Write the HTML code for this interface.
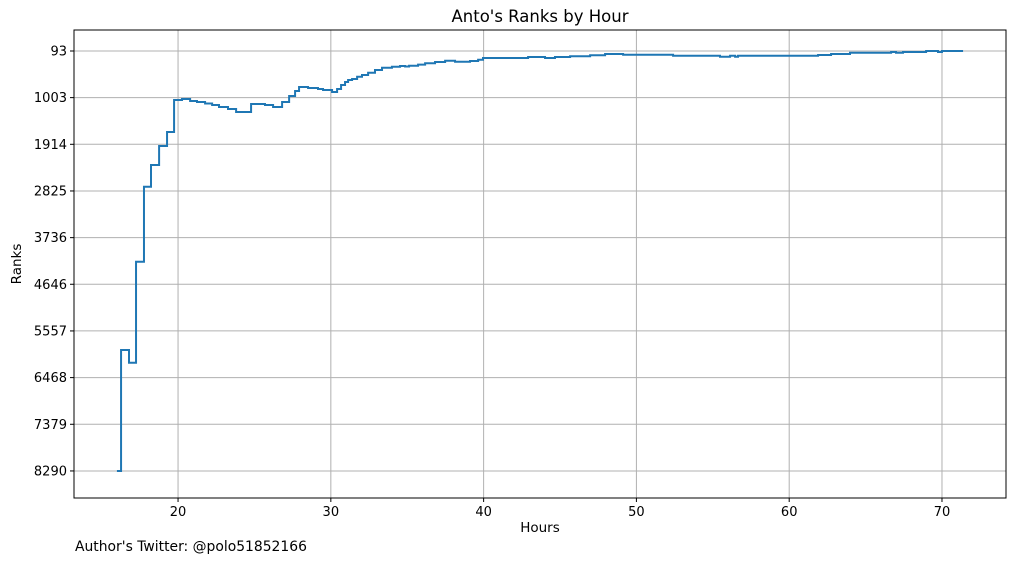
<!DOCTYPE html>
<html><head><meta charset="utf-8"><style>
body{margin:0;background:#fff;font-family:"DejaVu Sans",sans-serif}
</style></head><body>
<svg id="c" width="1014" height="562" xmlns="http://www.w3.org/2000/svg" font-family="DejaVu Sans, sans-serif"></svg>
<script>
const hours=[16.0,16.27,16.79,17.25,17.77,18.23,18.76,19.28,19.74,20.26,20.79,21.24,21.77,22.23,22.68,23.27,23.8,24.78,25.69,26.22,26.81,27.27,27.66,27.92,28.51,29.16,29.49,30.08,30.41,30.67,30.93,31.13,31.39,31.72,32.04,32.44,32.89,33.35,34.0,34.53,34.86,35.12,35.71,36.17,36.82,37.48,38.13,39.11,39.64,39.96,42.91,44.02,44.67,45.66,46.97,47.95,49.13,52.4,55.47,56.13,56.46,56.65,61.89,62.74,63.98,66.67,66.99,67.45,68.96,69.74,70.0,71.38];
const ranks=[8290,5930,6177,4206,2742,2318,1947,1674,1049,1030,1069,1089,1118,1147,1186,1225,1284,1128,1147,1186,1089,971,874,796,815,835,854,893,835,757,698,659,640,595,562,517,464,419,400,386,396,380,360,333,308,282,302,288,263,230,210,230,210,196,177,152,165,185,204,185,204,185,171,152,126,113,126,113,93,113,93,93];
const xTicks=[20,30,40,50,60,70];
const yTicks=[93,1003,1914,2825,3736,4646,5557,6468,7379,8290];
const L=74,R=1006,T=30,B=498,xMin=13.19,xMax=74.19,yTop=-317,yBot=8818;
const sx=v=>L+(v-xMin)/(xMax-xMin)*(R-L);
const sy=v=>T+(v-yTop)/(yBot-yTop)*(B-T);
const svg=document.getElementById('c');
const NS='http://www.w3.org/2000/svg';
function mk(t,a,txt){const e=document.createElementNS(NS,t);for(const k in a)e.setAttribute(k,a[k]);if(txt!=null)e.textContent=txt;svg.appendChild(e);return e;}
xTicks.forEach(v=>{const x=sx(v);
const g=mk('line',{x1:x,x2:x,y1:T,y2:B,stroke:'#b0b0b0','stroke-width':1});


mk('line',{x1:x,x2:x,y1:B,y2:B+4,stroke:'#000'});
const t=mk('text',{x:x,y:B+18,'font-size':13,'text-anchor':'middle'},String(v));

});
yTicks.forEach(v=>{const y=sy(v);
const g=mk('line',{x1:L,x2:R,y1:y,y2:y,stroke:'#b0b0b0','stroke-width':1});


mk('line',{x1:L-4,x2:L,y1:y,y2:y,stroke:'#000'});
const t=mk('text',{x:L-7,y:y+4.5,'font-size':13,'text-anchor':'end'},String(v));

});
let d='';
for(let i=0;i<hours.length;i++){const x=sx(hours[i]),y=sy(ranks[i]);
if(i===0)d+='M'+x+','+y;else d+='H'+x+'V'+y;}
const p=mk('path',{d:d,fill:'none',stroke:'#1f77b4','stroke-width':2});


const fr=mk('rect',{x:L,y:T,width:R-L,height:B-T,fill:'none',stroke:'#000','stroke-width':1});


const ti=mk('text',{x:(L+R)/2,y:22,'font-size':16.5,'text-anchor':'middle'},"Anto's Ranks by Hour");


const xl=mk('text',{x:(L+R)/2,y:532,'font-size':13.5,'text-anchor':'middle'},'Hours');


const yl=mk('text',{x:21,y:(T+B)/2,'font-size':13.5,'text-anchor':'middle',transform:'rotate(-90 21 '+((T+B)/2)+')'},'Ranks');


const ft=mk('text',{x:75,y:551,'font-size':13.9},"Author's Twitter: @polo51852166");


</script>
</body></html>
